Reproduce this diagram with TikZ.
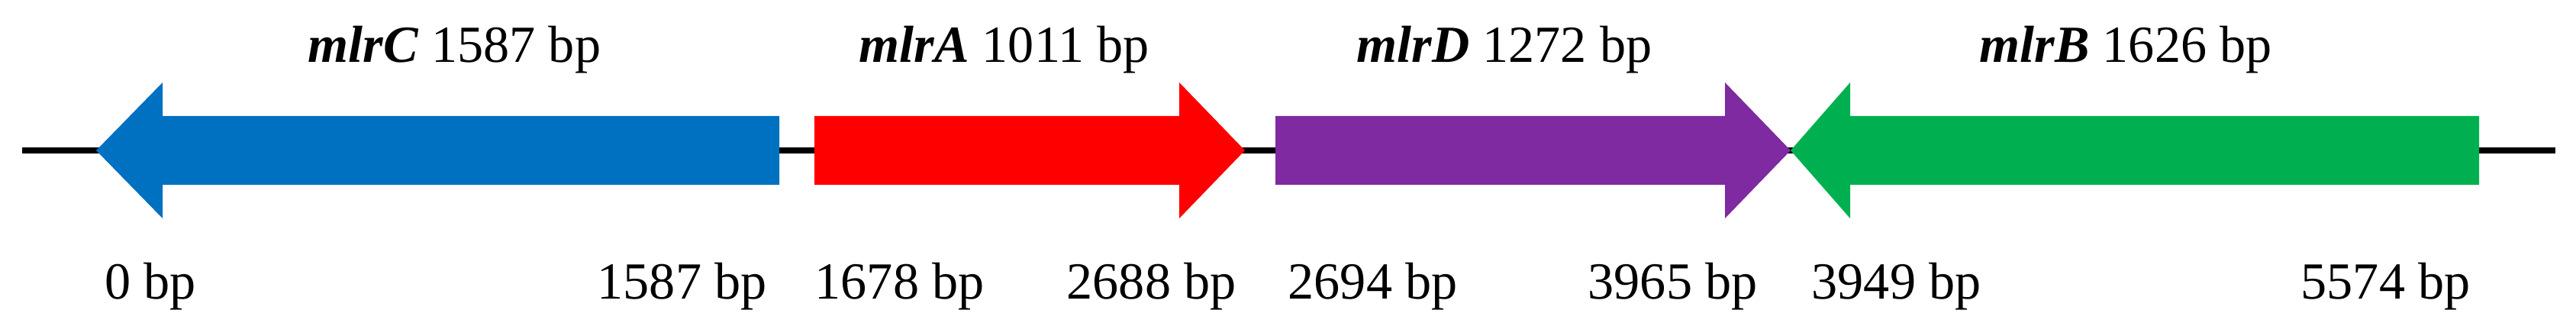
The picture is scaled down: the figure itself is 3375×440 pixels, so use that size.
\documentclass[tikz,border=0pt]{standalone}
\usepackage{fontspec}
\setmainfont{Liberation Serif}
\definecolor{geneblue}{HTML}{0070C0}
\definecolor{genered}{HTML}{FF0000}
\definecolor{genepurple}{HTML}{7F2AA0}
\definecolor{genegreen}{HTML}{00B050}
\tikzset{
  lbl/.style={anchor=base west, inner sep=0pt, font=\fontsize{19.4}{22}\selectfont},
  backbone/.style={line width=2pt, black},
}
\newcommand{\generight}[5]{% start, headbase, tip, color, name
  \fill[#4] (#1,152) -- (#2,152) -- (#2,108) -- (#3,197) -- (#2,286) -- (#2,242) -- (#1,242) -- cycle;
  \coordinate (#5) at ({(#1+#3)/2},197);
}
\newcommand{\geneleft}[5]{% end(right), headbase, tip, color, name
  \fill[#4] (#1,152) -- (#2,152) -- (#2,108) -- (#3,197) -- (#2,286) -- (#2,242) -- (#1,242) -- cycle;
  \coordinate (#5) at ({(#1+#3)/2},197);
}
\begin{document}
\begin{tikzpicture}[x=0.01cm,y=-0.01cm]
\useasboundingbox (0,0) rectangle (3375,440);
\coordinate (L) at (29,197);
\coordinate (R) at (3348,197);
\draw[backbone] (L) -- (R);
\geneleft{1021}{213}{126}{geneblue}{gC}
\generight{1067}{1545}{1631}{genered}{gA}
\generight{1671}{2260}{2346}{genepurple}{gD}
\geneleft{3248}{2424}{2346}{genegreen}{gB}
% top labels
\node[lbl] (tC) at (403,82) {\textbf{\textit{mlrC}} 1587 bp};
\node[lbl] (tA) at (1125,82) {\textbf{\textit{mlrA}} 1011 bp};
\node[lbl] (tD) at (1777,82) {\textbf{\textit{mlrD}} 1272 bp};
\node[lbl] (tB) at (2593,82) {\textbf{\textit{mlrB}} 1626 bp};
% bottom labels
\node[lbl] (p1) at (137,392) {0 bp};
\node[lbl] (p2) at (782,392) {1587 bp};
\node[lbl] (p3) at (1067,392) {1678 bp};
\node[lbl] (p4) at (1397,392) {2688 bp};
\node[lbl] (p5) at (1687,392) {2694 bp};
\node[lbl] (p6) at (2080,392) {3965 bp};
\node[lbl] (p7) at (2373,392) {3949 bp};
\node[lbl] (p8) at (3014,392) {5574 bp};
\end{tikzpicture}
\end{document}
